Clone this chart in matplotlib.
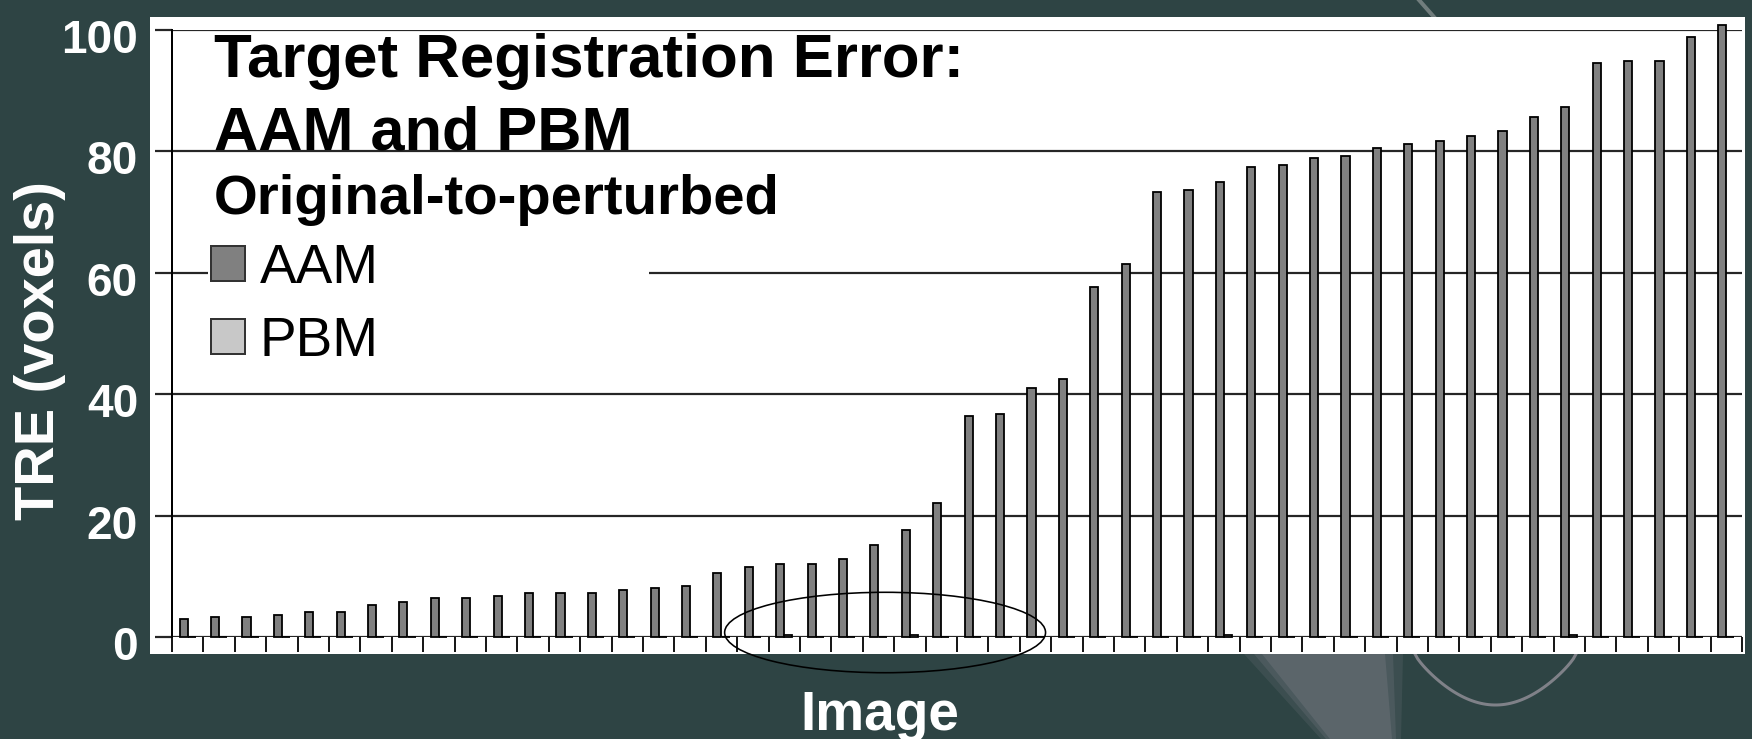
import numpy as np
import matplotlib
matplotlib.use("Agg")
import matplotlib.pyplot as plt
from matplotlib.patches import Rectangle, Ellipse, Polygon
from matplotlib.lines import Line2D
from matplotlib.transforms import ScaledTranslation

plt.rcParams['font.family'] = ['Liberation Sans', 'DejaVu Sans']

# TRE per image, sorted
aam_tre = [2.9, 3.3, 3.3, 3.6, 4.1, 4.1, 5.2, 5.7, 6.4, 6.4,
           6.8, 7.3, 7.3, 7.3, 7.7, 8.0, 8.4, 10.5, 11.6, 12.1,
           12.1, 12.8, 15.2, 17.6, 22.0, 36.4, 36.8, 41.1, 42.5, 57.7,
           61.5, 73.3, 73.7, 74.9, 77.4, 77.7, 78.9, 79.3, 80.5, 81.3,
           81.7, 82.5, 83.3, 85.7, 87.3, 94.5, 94.9, 94.9, 98.9, 100.9]
pbm_tre = [0, 0, 0, 0, 0, 0, 0, 0, 0, 0,
           0, 0, 0, 0, 0, 0, 0, 0, 0, 0.3,
           0, 0, 0, 0.3, 0, 0, 0, 0, 0, 0,
           0, 0, 0, 0.3, 0, 0, 0, 0, 0, 0,
           0, 0, 0, 0, 0.3, 0, 0, 0, 0, 0]
series_names = ['AAM', 'PBM']
y_ticks = [0, 20, 40, 60, 80, 100]
title_lines = ['Target Registration Error:', 'AAM and PBM', 'Original-to-perturbed']

BG = '#2e4444'
PX = 0.72  # points per pixel at dpi 100
W, H = 1752, 739


def fx(px):
    return px / W


def fy(py):
    return (H - py) / H


fig = plt.figure(figsize=(17.52, 7.39), dpi=100, facecolor=BG)

# faint photo detail showing through the slide background
for grow, a in [(18, 0.12), (8, 0.15), (0, 0.18)]:
    fig.patches.append(Polygon([(fx(1262 - grow), fy(654)), (fx(1385 + grow), fy(654)),
                                (fx(1392 + grow / 2), fy(739)), (fx(1330 - grow / 2), fy(739))],
                               closed=True, transform=fig.transFigure,
                               fc='#a49eaa', ec='none', alpha=a, zorder=0))
t = np.linspace(0, 1, 60)
cx = 1415 + 161 * t
cy = 654 + 51 * np.sin(np.pi * t) ** 0.8
fig.lines.append(Line2D(fx(cx), fy(cy), transform=fig.transFigure, color='#a39ca6',
                        lw=3 * PX, alpha=0.7, zorder=0))
fig.lines.append(Line2D([fx(1419), fx(1434)], [fy(0), fy(17)], transform=fig.transFigure,
                        color='#8f9696', lw=4 * PX, alpha=0.7, zorder=0))

# white slide panel behind the chart
fig.patches.append(Rectangle((fx(150), fy(654)), 1595 / W, 637 / H,
                             transform=fig.transFigure, fc='white', ec='none', zorder=0.5))

ax = fig.add_axes([fx(172), fy(637), 1570 / W, 607 / H])
ax.set_facecolor('none')
ax.set_zorder(2)

x = np.arange(len(aam_tre))
w = 0.255
aam_bars = ax.bar(x - w / 2, aam_tre, width=w, color='#808080', edgecolor='black',
                  linewidth=1.8 * PX, zorder=2, clip_on=False)
pbm_bars = ax.bar(x + w / 2, pbm_tre, width=w, color='#c8c8c8', edgecolor='black',
                  linewidth=1.8 * PX, zorder=2, clip_on=False)

ax.set_xlim(-0.5, len(aam_tre) - 0.5)
ax.set_ylim(0, 100)

# gridlines and axis
ax.set_axisbelow(True)
ax.yaxis.grid(True, color='#262626', linewidth=2.2 * PX)
for s in ['top', 'right', 'bottom']:
    ax.spines[s].set_visible(False)
ax.spines['left'].set_color('black')
ax.spines['left'].set_linewidth(2 * PX)

ax.set_xticks(np.arange(-0.5, len(aam_tre), 1))
ax.tick_params(axis='x', length=15 * PX, width=1.8 * PX, color='black',
               direction='out', labelbottom=False)
ax.set_yticks(y_ticks)
ax.set_yticklabels([str(v) for v in y_ticks])
ax.tick_params(axis='y', length=17 * PX, width=2.2 * PX, color='#262626',
               pad=17 * PX, labelsize=46 * PX, labelcolor='white')
offset = ScaledTranslation(0, -0.06, fig.dpi_scale_trans)
for lbl in ax.get_yticklabels():
    lbl.set_fontweight('bold')
    lbl.set_transform(lbl.get_transform() + offset)

ax.set_ylabel('TRE (voxels)', fontsize=56 * PX, fontweight='bold', color='white', va='center')
ax.yaxis.set_label_coords(-0.0838, 0.472)
ax.set_xlabel('Image', fontsize=55 * PX, fontweight='bold', color='white', va='top')
ax.xaxis.set_label_coords(0.451, -0.087)

# white box behind the legend (hides the 60 gridline)
ax.add_patch(Rectangle((0.65, 44), 14.05, 24, fc='white', ec='none', zorder=1))

leg = ax.legend([aam_bars, pbm_bars], series_names, loc='upper left',
                bbox_to_anchor=(fx(211), fy(243)), bbox_transform=fig.transFigure,
                frameon=False, borderpad=0, borderaxespad=0,
                prop={'size': 55 * PX}, handlelength=0.62, handleheight=0.62,
                handletextpad=0.27, labelspacing=0.38)
for h in leg.legend_handles:
    h.set_edgecolor('#333333')
    h.set_linewidth(2 * PX)

# title block
fig.text(fx(214), fy(77), title_lines[0], fontsize=61.8 * PX,
         fontweight='bold', color='black', va='baseline', ha='left', zorder=3)
fig.text(fx(214), fy(150), title_lines[1], fontsize=61.3 * PX,
         fontweight='bold', color='black', va='baseline', ha='left', zorder=3)
fig.text(fx(214), fy(214), title_lines[2], fontsize=56.3 * PX,
         fontweight='bold', color='black', va='baseline', ha='left', zorder=3)

# hand-drawn highlight ellipse around the PBM marks
ax.add_patch(Ellipse((22.21, 0.74), 10.22, 13.25, fill=False, ec='black',
                     lw=1.6 * PX, clip_on=False, zorder=3))

fig.savefig('out.png', dpi=100, facecolor=BG)
